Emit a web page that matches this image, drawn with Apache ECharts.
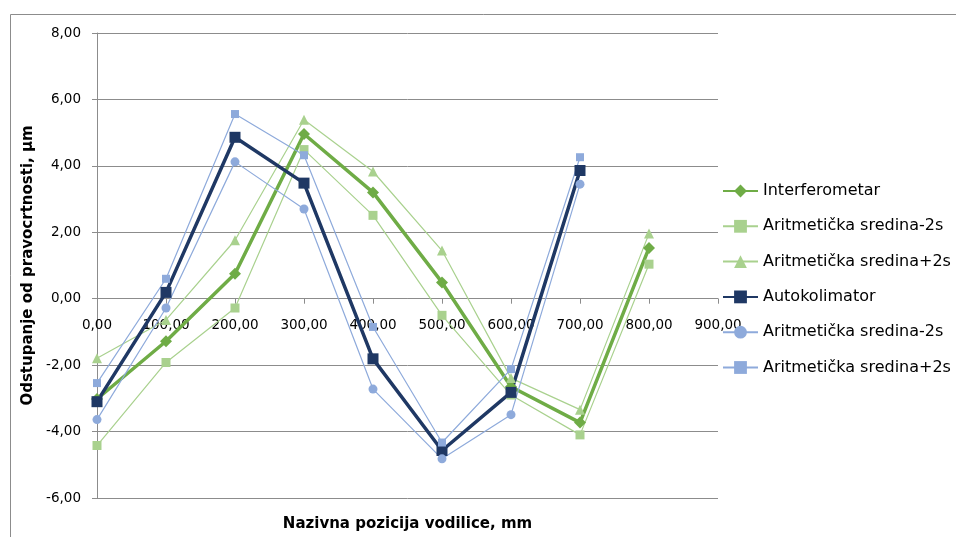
<!DOCTYPE html>
<html>
<head>
<meta charset="utf-8">
<script src="https://cdn.jsdelivr.net/npm/echarts@6/dist/echarts.min.js"></script>
<style>html,body{margin:0;padding:0;background:#fff}#c{width:956px;height:537px}</style>
</head>
<body>
<div id="c"></div>
<script>
const positions = [0, 100, 200, 300, 400, 500, 600, 700, 800];
const interferometar = [-3.02, -1.28, 0.75, 4.96, 3.20, 0.49, -2.65, -3.73, 1.53];
const interfMinus2s = [-4.42, -1.92, -0.28, 4.49, 2.51, -0.50, -2.90, -4.10, 1.04];
const interfPlus2s = [-1.79, -0.64, 1.76, 5.39, 3.83, 1.45, -2.39, -3.34, 1.96];
const autokolimator = [-3.10, 0.19, 4.86, 3.48, -1.81, -4.57, -2.82, 3.86];
const autoMinus2s = [-3.64, -0.28, 4.12, 2.70, -2.72, -4.82, -3.49, 3.45];
const autoPlus2s = [-2.54, 0.60, 5.56, 4.32, -0.85, -4.33, -2.12, 4.26];
const seriesNames = ['Interferometar', 'Aritmetička sredina-2s', 'Aritmetička sredina+2s', 'Autokolimator', 'Aritmetička sredina-2s ', 'Aritmetička sredina+2s '];
const xTitle = 'Nazivna pozicija vodilice, mm';
const yTitle = 'Odstupanje od pravocrtnosti, µm';
const yMin = -6, yMax = 8;

function pairs(vals) { return vals.map((v, i) => [positions[i], v]); }
function fmt(v) { return v.toFixed(2).replace('.', ','); }

const GREEN = '#6FAC46', LGREEN = '#A9D18E', NAVY = '#1F3864', LBLUE = '#8EAADB';
const GRID = '#8C8C8C';
const gridTop = 33, gridBottom = 39, H = 537;
const plotH = H - gridTop - gridBottom;
// place the x axis where y = 0 (pixel offset up from grid bottom)
const zeroOffset = -plotH * (0 - yMin) / (yMax - yMin);

function mk(name, vals, color, width, symbol, size) {
  return {
    name: name, type: 'line', data: pairs(vals),
    symbol: symbol, symbolSize: size, showSymbol: true,
    lineStyle: { color: color, width: width },
    itemStyle: { color: color },
    emphasis: { disabled: true },
    animation: false
  };
}

const chart = echarts.init(document.getElementById('c'), null, { renderer: 'canvas' });
chart.setOption({
  animation: false,
  backgroundColor: '#fff',
  graphic: [
    { type: 'polyline', shape: { points: [[10.5, 537], [10.5, 14.5], [956, 14.5]] }, style: { stroke: GRID, lineWidth: 1, fill: null } }
  ],
  grid: { left: 97, right: 238, top: gridTop, bottom: gridBottom, containLabel: false, outerBoundsMode: 'none' },
  legend: {
    orient: 'vertical', left: 722, top: 181, padding: 0,
    itemWidth: 35, itemHeight: 16, itemGap: 15.3,
    textStyle: { fontFamily: 'DejaVu Sans', fontSize: 16, color: '#000', lineHeight: 20 },
    data: seriesNames
  },
  xAxis: {
    type: 'value', min: 0, max: 900, interval: 100,
    position: 'bottom', offset: zeroOffset,
    name: xTitle, nameLocation: 'middle', nameGap: 218,
    nameTextStyle: { fontFamily: 'DejaVu Sans', fontWeight: 'bold', fontSize: 15, color: '#000' },
    axisLine: { onZero: false, lineStyle: { color: GRID, width: 1 } },
    axisTick: { show: true, length: 5, lineStyle: { color: GRID } },
    axisLabel: { margin: 20, formatter: fmt, fontFamily: 'DejaVu Sans', fontSize: 13.5, color: '#000' },
    splitLine: { show: false }
  },
  yAxis: {
    type: 'value', min: yMin, max: yMax, interval: 2,
    name: yTitle, nameLocation: 'middle', nameGap: 58, nameRotate: 90,
    nameTextStyle: { fontFamily: 'DejaVu Sans', fontWeight: 'bold', fontSize: 15, color: '#000' },
    axisLine: { show: true, onZero: false, lineStyle: { color: GRID, width: 1 } },
    axisTick: { show: true, length: 5, lineStyle: { color: GRID } },
    axisLabel: { margin: 16, formatter: fmt, fontFamily: 'DejaVu Sans', fontSize: 13.5, color: '#000' },
    splitLine: { show: true, lineStyle: { color: GRID, width: 1 } }
  },
  series: [
    mk(seriesNames[0], interferometar, GREEN, 3.5, 'diamond', 12),
    mk(seriesNames[1], interfMinus2s, LGREEN, 1.2, 'rect', 9),
    mk(seriesNames[2], interfPlus2s, LGREEN, 1.2, 'triangle', 10),
    mk(seriesNames[3], autokolimator, NAVY, 3.5, 'rect', 11),
    mk(seriesNames[4], autoMinus2s, LBLUE, 1.2, 'circle', 9),
    mk(seriesNames[5], autoPlus2s, LBLUE, 1.2, 'rect', 8)
  ]
});
</script>
</body>
</html>
